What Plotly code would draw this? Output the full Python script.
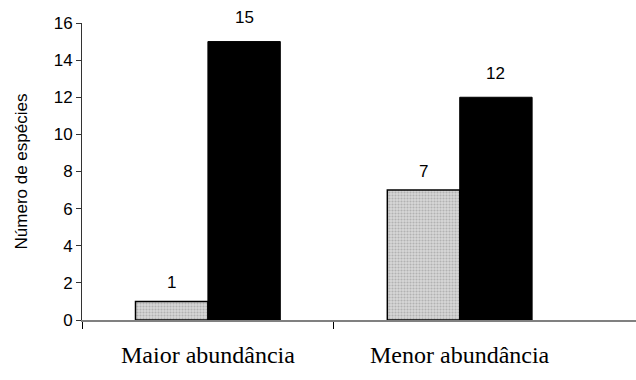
import plotly.graph_objects as go

categories = ["Maior abundância", "Menor abundância"]
positions = [0, 1]
series_grey = [1, 7]
series_black = [15, 12]
y_ticks = [0, 2, 4, 6, 8, 10, 12, 14, 16]

fig = go.Figure()
fig.add_trace(go.Bar(
    x=positions, y=series_grey,
    marker=dict(color="#c8c8c8",
                line=dict(color="black", width=1.5),
                pattern=dict(shape=".", size=3, solidity=0.4,
                             fgcolor="#8c8c8c", bgcolor="#d8d8d8")),
    showlegend=False, offsetgroup="a", hoverinfo="skip",
))
fig.add_trace(go.Bar(
    x=positions, y=series_black,
    marker=dict(color="black", line=dict(color="black", width=1)),
    showlegend=False, offsetgroup="b", hoverinfo="skip",
))

bar_w = 0.2875
for p, v in zip(positions, series_grey):
    fig.add_annotation(x=p - bar_w / 2, y=v, xref="x", yref="y", yshift=19,
                       text=str(v), showarrow=False, yanchor="middle",
                       font=dict(family="Liberation Sans, Arial", size=17, color="black"))
for p, v in zip(positions, series_black):
    fig.add_annotation(x=p + bar_w / 2, y=v, xref="x", yref="y", yshift=24,
                       text=str(v), showarrow=False, yanchor="middle",
                       font=dict(family="Liberation Sans, Arial", size=17, color="black"))

for p, c in zip(positions, categories):
    fig.add_annotation(x=p, y=0, xref="x", yref="paper", yshift=-35,
                       text=c, showarrow=False, yanchor="middle",
                       font=dict(family="Liberation Serif, Times New Roman", size=24, color="black"))

fig.update_layout(
    width=636, height=380,
    margin=dict(l=82, r=0, t=23, b=60),
    plot_bgcolor="white", paper_bgcolor="white",
    barmode="group", bargap=0.425, bargroupgap=0,
    xaxis=dict(range=[-0.5, 1.7], tickvals=positions, ticktext=["", ""],
               ticks="", showgrid=False, zeroline=False,
               showline=True, linecolor="#808080", linewidth=2,
               minor=dict(tickvals=[-0.5, 0.5], ticks="outside", ticklen=7,
                          tickcolor="black", tickwidth=1, showgrid=False)),
    yaxis=dict(range=[0, 16], tickvals=y_ticks, ticks="outside", ticklen=5,
               tickcolor="#333333", showgrid=False, zeroline=False,
               showline=True, linecolor="#333333", linewidth=1,
               tickfont=dict(family="Liberation Sans, Arial", size=17, color="black"),
               title=dict(text="Número de espécies", standoff=21,
                          font=dict(family="Liberation Sans, Arial", size=17, color="black"))),
)

fig.write_html("out.html", config={"displayModeBar": False},
               post_script="document.body.style.margin='0';document.body.style.overflow='hidden';")
